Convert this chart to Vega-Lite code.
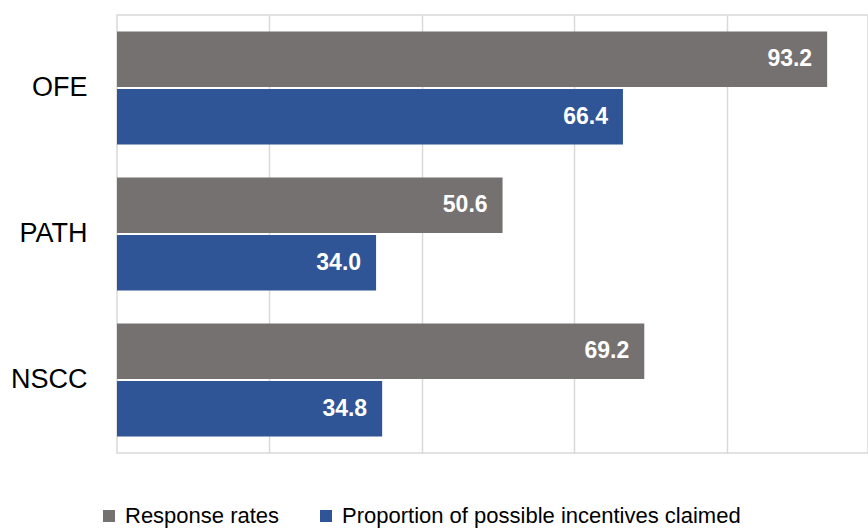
{
  "$schema": "https://vega.github.io/schema/vega-lite/v6.json",
  "width": 751,
  "height": 438,
  "autosize": {"type": "none"},
  "padding": {"left": 117, "top": 15, "right": 0, "bottom": 76},
  "background": "white",
  "config": {
    "view": {"stroke": "#d9d9d9", "strokeWidth": 1.5},
    "font": "Liberation Sans"
  },
  "data": {
    "values": [
      {"site": "OFE", "series": "Response rates", "value": 93.2},
      {"site": "OFE", "series": "Proportion of possible incentives claimed", "value": 66.4},
      {"site": "PATH", "series": "Response rates", "value": 50.6},
      {"site": "PATH", "series": "Proportion of possible incentives claimed", "value": 34.0},
      {"site": "NSCC", "series": "Response rates", "value": 69.2},
      {"site": "NSCC", "series": "Proportion of possible incentives claimed", "value": 34.8}
    ]
  },
  "encoding": {
    "y": {
      "field": "site",
      "type": "nominal",
      "sort": ["OFE", "PATH", "NSCC"],
      "scale": {"paddingInner": 0.226, "paddingOuter": 0.113},
      "axis": {
        "title": null,
        "ticks": false,
        "domain": false,
        "labelFont": "Liberation Sans",
        "labelFontSize": 27,
        "labelColor": "#000000",
        "labelPadding": 30
      }
    },
    "yOffset": {
      "field": "series",
      "type": "nominal",
      "sort": ["Response rates", "Proportion of possible incentives claimed"],
      "scale": {"paddingInner": 0.035}
    },
    "x": {
      "field": "value",
      "type": "quantitative",
      "scale": {"domain": [0, 98.56], "nice": false},
      "axis": {
        "title": null,
        "labels": false,
        "ticks": false,
        "domain": false,
        "values": [20, 40, 60, 80],
        "gridColor": "#d9d9d9",
        "gridWidth": 1.5
      }
    }
  },
  "layer": [
    {
      "mark": {"type": "bar"},
      "encoding": {
        "color": {
          "field": "series",
          "type": "nominal",
          "sort": ["Response rates", "Proportion of possible incentives claimed"],
          "scale": {"range": ["#757171", "#2F5597"]},
          "legend": {
            "title": null,
            "orient": "none",
            "direction": "horizontal",
            "legendX": -19,
            "legendY": 490,
            "symbolType": "square",
            "symbolSize": 144,
            "symbolStrokeWidth": 0,
            "labelFontSize": 22,
            "labelColor": "#000000",
            "labelOffset": 5,
            "columnPadding": 35,
            "labelLimit": 500
          }
        }
      }
    },
    {
      "mark": {
        "type": "text",
        "align": "right",
        "baseline": "middle",
        "dx": -15,
        "font": "Liberation Sans",
        "fontWeight": "bold",
        "fontSize": 23,
        "color": "white"
      },
      "encoding": {
        "text": {"field": "value", "type": "quantitative", "format": ".1f"}
      }
    }
  ]
}
